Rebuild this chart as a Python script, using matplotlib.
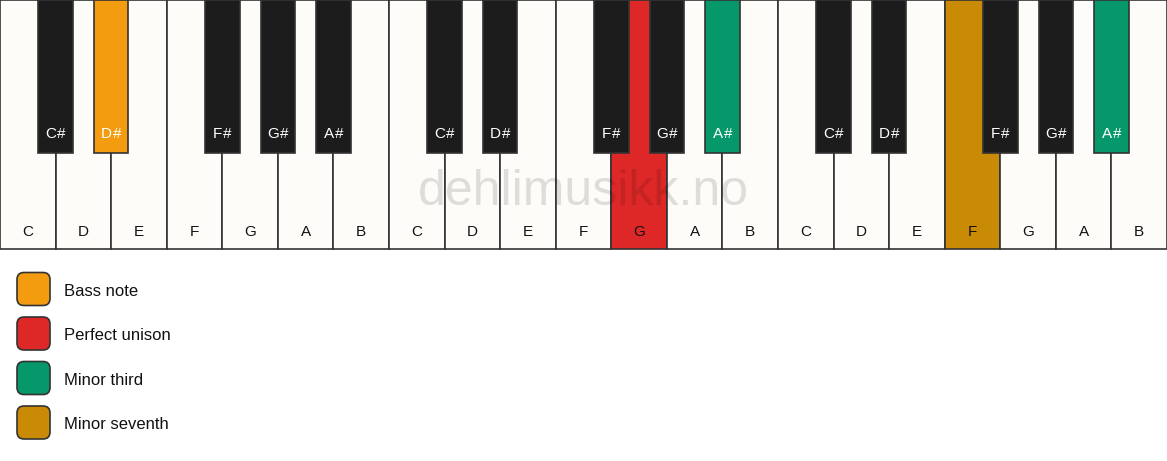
import matplotlib
matplotlib.use("Agg")
import matplotlib.pyplot as plt
from matplotlib.patches import Rectangle, FancyBboxPatch

plt.rcParams['font.family'] = ['Liberation Sans', 'DejaVu Sans']

# ---- data ----
white_notes = ["C", "D", "E", "F", "G", "A", "B"] * 3
black_after = ["C#", "D#", None, "F#", "G#", "A#", None]  # black key after each white key in an octave
n_octaves = 3
highlights = {  # (note, octave) -> legend category
    ("D#", 0): "Bass note",
    ("G", 1): "Perfect unison",
    ("A#", 1): "Minor third",
    ("A#", 2): "Minor third",
    ("F", 2): "Minor seventh",
}
legend_labels = ["Bass note", "Perfect unison", "Minor third", "Minor seventh"]
legend_colors = ["#F39C10", "#DE2828", "#06976A", "#C98A05"]
watermark = "dehlimusikk.no"

# ---- style ----
W, H = 1167, 461
white_fill = "#FDFCF9"
black_fill = "#1C1C1C"
edge = "#333333"
kb_h = 249
bk_h = 153
wk = W / len(white_notes)
bk = 34.5
cat_color = dict(zip(legend_labels, legend_colors))

fig = plt.figure(figsize=(W / 100, H / 100), dpi=100)
ax = fig.add_axes([0, 0, 1, 1])
ax.set_xlim(0, W)
ax.set_ylim(H, 0)
ax.axis("off")
renderer = fig.canvas.get_renderer()


def text_width(s, fs):
    t = ax.text(0, 0, s, fontsize=fs)
    w = t.get_window_extent(renderer).width
    t.remove()
    return w

# white keys
for i, name in enumerate(white_notes):
    octv = i // 7
    c = cat_color.get(highlights.get((name, octv)), white_fill)
    ax.add_patch(Rectangle((i * wk, 0), wk, kb_h, facecolor=c, edgecolor=edge, lw=1.2, zorder=1))
    ax.text(i * wk + wk / 2, 232, name, ha="center", va="center", fontsize=11, color="#111111", zorder=5)

# black keys
gap = 1.0
for o in range(n_octaves):
    for j, name in enumerate(black_after):
        if name is None:
            continue
        x = (o * 7 + j + 1) * wk
        c = cat_color.get(highlights.get((name, o)), black_fill)
        ax.add_patch(Rectangle((x - bk / 2, 0), bk, bk_h, facecolor=c, edgecolor=edge, lw=1.2, zorder=3))
        letter, sharp = name[0], name[1:]
        wl = text_width(letter, 11)
        ws = text_width(sharp, 11)
        split = x + (wl - ws) / 2 - gap / 2
        ax.text(split, 134, letter, ha="right", va="center", fontsize=11, color="white", zorder=5)
        ax.text(split + gap, 134, sharp, ha="left", va="center", fontsize=11, color="white", zorder=5)

# watermark
ax.text(W / 2, 192, watermark, ha="center", va="center", fontsize=36, color="black", alpha=0.12, zorder=6)

# legend
for k, (lab, col) in enumerate(zip(legend_labels, legend_colors)):
    y = 272.5 + k * 44.5
    ax.add_patch(FancyBboxPatch((17, y), 33, 33, boxstyle="round,pad=0,rounding_size=7",
                                facecolor=col, edgecolor="#333333", lw=1.2, zorder=3))
    ax.text(64, y + 18.5, lab, ha="left", va="center", fontsize=12, color="#111111")

fig.savefig("out.png", dpi=100, facecolor="white")
